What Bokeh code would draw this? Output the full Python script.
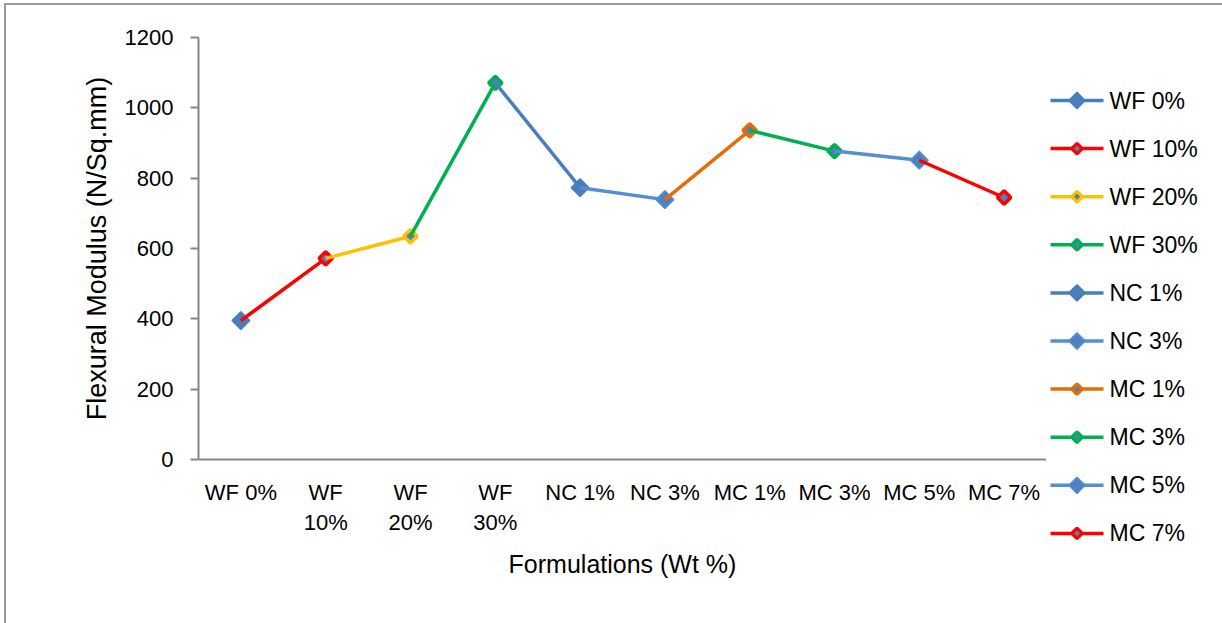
import math

from bokeh.plotting import figure
from bokeh.layouts import row
from bokeh.models import FactorRange, Range1d, FixedTicker
from bokeh.core.properties import value
from bokeh.embed import file_html
from bokeh.resources import INLINE

# Flexural modulus of each formulation
formulations = ["WF 0%", "WF 10%", "WF 20%", "WF 30%", "NC 1%",
                "NC 3%", "MC 1%", "MC 3%", "MC 5%", "MC 7%"]
tick_labels = ["WF 0%", "WF\n10%", "WF\n20%", "WF\n30%", "NC 1%",
               "NC 3%", "MC 1%", "MC 3%", "MC 5%", "MC 7%"]
modulus = [395, 572, 635, 1071, 773, 739, 936, 877, 851, 745]
y_ticks = [0, 200, 400, 600, 800, 1000, 1200]

# one colour per series: the segment leading into a point and its marker border
series_colors = ["#4A7EBB", "#FF0000", "#FFC000", "#00B050", "#4A7EBB",
                 "#558ED5", "#E46C0A", "#00B050", "#558ED5", "#FF0000"]
marker_fills = ["#4A7EBB", "#4F81BD", "#4F81BD", "#4F81BD", "#4A7EBB",
                "#4F81BD", "#4F81BD", "#4F81BD", "#4F81BD", "#4F81BD"]
solid_marker = [True, False, False, False, True, True, False, False, True, False]

FONT = "Liberation Sans"
AXIS_GREY = "#878787"
HEIGHT = 618

p = figure(
    x_range=FactorRange(factors=tick_labels, range_padding=0),
    y_range=Range1d(0, 1200),
    width=1040, height=HEIGHT,
    output_backend="svg", toolbar_location=None,
    min_border_left=192, min_border_right=0,
    min_border_top=32, min_border_bottom=164,
)
p.outline_line_color = None
p.xgrid.grid_line_color = None
p.ygrid.grid_line_color = None

# y axis
ya = p.yaxis[0]
ya.ticker = FixedTicker(ticks=y_ticks)
ya.axis_line_color = AXIS_GREY
ya.axis_line_width = 2
ya.major_tick_line_color = AXIS_GREY
ya.major_tick_line_width = 2
ya.major_tick_out = 8
ya.major_tick_in = 0
ya.minor_tick_out = 0
ya.minor_tick_in = 0
ya.major_label_text_font = FONT
ya.major_label_text_font_size = "22px"
ya.major_label_text_color = "black"
ya.major_label_standoff = 17
ya.axis_label = "Flexural Modulus (N/Sq.mm)"
ya.axis_label_text_font = FONT
ya.axis_label_text_font_size = "27px"
ya.axis_label_text_font_style = "normal"
ya.axis_label_text_color = "black"
ya.axis_label_standoff = 10

# x axis
xa = p.xaxis[0]
xa.axis_line_color = AXIS_GREY
xa.axis_line_width = 2
xa.major_tick_out = 0
xa.major_tick_in = 0
xa.minor_tick_out = 0
xa.major_label_text_font = FONT
xa.major_label_text_font_size = "22px"
xa.major_label_text_color = "black"
xa.major_label_standoff = 20
xa.axis_label = "Formulations (Wt %)"
xa.axis_label_text_font = FONT
xa.axis_label_text_font_size = "25px"
xa.axis_label_text_font_style = "normal"
xa.axis_label_text_color = "black"
xa.axis_label_standoff = 12

# each series is the segment into its point plus a diamond marker on the point
for i, name in enumerate(formulations):
    color = series_colors[i]
    if i > 0:
        p.line(x=[tick_labels[i - 1], tick_labels[i]],
               y=[modulus[i - 1], modulus[i]],
               line_color=color, line_width=3.5)
    size, lw = (12.5, 1.5) if solid_marker[i] else (9.5, 3.5)
    p.scatter(x=[tick_labels[i]], y=[modulus[i]], marker="square",
              angle=math.pi / 4, size=size,
              fill_color=marker_fills[i], line_color=color, line_width=lw)

# legend panel drawn in its own pixel-space figure
LEG_W = 176
leg = figure(width=LEG_W, height=HEIGHT, x_range=Range1d(0, LEG_W),
             y_range=Range1d(HEIGHT, 0), output_backend="svg",
             toolbar_location=None, min_border=0)
leg.axis.visible = False
leg.grid.visible = False
leg.outline_line_color = None
# keep this panel's frame independent of the chart's frame
try:
    leg.frame_align = False
    p.frame_align = False
except AttributeError:
    pass

ROW_TOP, ROW_STEP = 95, 48.1
GLYPH_X0, GLYPH_X1, LABEL_X = 4, 57, 63
for i, name in enumerate(formulations):
    yy = ROW_TOP + i * ROW_STEP
    leg.line(x=[GLYPH_X0, GLYPH_X1], y=[yy, yy],
             line_color=series_colors[i], line_width=3.5)
    size, lw = (11.5, 1.5) if solid_marker[i] else (7.5, 3.2)
    leg.scatter(x=[(GLYPH_X0 + GLYPH_X1) / 2], y=[yy], marker="square",
                angle=math.pi / 4, size=size, fill_color=marker_fills[i],
                line_color=series_colors[i], line_width=lw)
    leg.text(x=[LABEL_X], y=[yy], text=[name], text_font=value(FONT),
             text_font_size="23px", text_baseline="middle",
             text_align="left", text_color="black")

layout = row(p, leg, styles={"border-top": "2px solid #9a9a9a",
                             "border-left": "2px solid #9a9a9a",
                             "margin-left": "4px", "margin-top": "3px"})

open("out.html", "w").write(file_html(layout, INLINE))
